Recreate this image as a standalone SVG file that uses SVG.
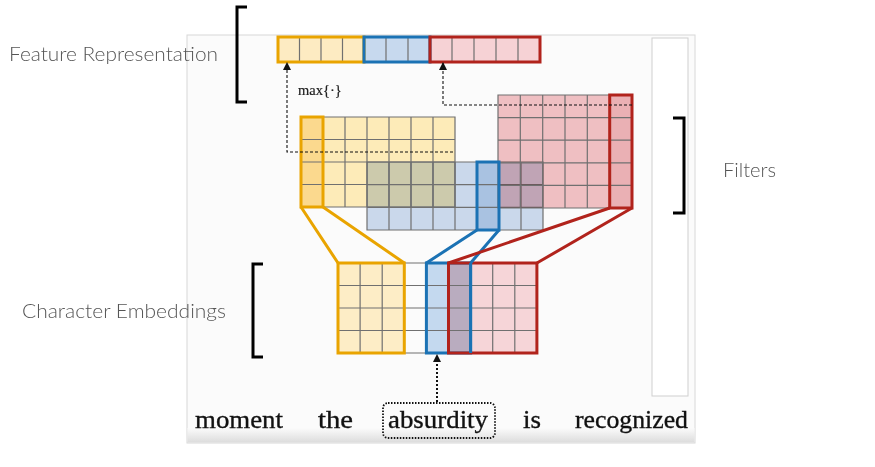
<svg xmlns="http://www.w3.org/2000/svg" width="875" height="467" viewBox="0 0 875 467">
<defs>
<style>
.lbl{font-family:Lato,"Open Sans",sans-serif;font-weight:300;font-size:19.5px;fill:#555}
.word{font-family:"Liberation Serif","DejaVu Serif",serif;font-size:26px;fill:#111;stroke:#111;stroke-width:0.35}
.grid{fill:none;stroke:#707070;stroke-width:1.2}
.brk{fill:none;stroke:#000;stroke-width:3}
.yo{fill:none;stroke:#e9a400;stroke-width:3}
.bo{fill:none;stroke:#1b72b4;stroke-width:3}
.ro{fill:none;stroke:#b1231c;stroke-width:3}
.dash{fill:none;stroke:#111;stroke-width:1.1;stroke-dasharray:3 2}
.mul{mix-blend-mode:multiply}
</style>
<marker id="arr" viewBox="0 0 8 8" refX="7" refY="4" markerWidth="8" markerHeight="8" markerUnits="userSpaceOnUse" orient="auto">
<path d="M0,0 L8,4 L0,8 z" fill="#111"/>
</marker>
<linearGradient id="bot" x1="0" y1="0" x2="0" y2="1">
<stop offset="0" stop-color="#fbfbfb"/>
<stop offset="1" stop-color="#dcdcdc"/>
</linearGradient>
</defs>
<rect width="875" height="467" fill="#fff"/>
<g id="panel">
<rect x="187" y="35" width="508" height="408" fill="#fbfbfb" stroke="#d8d8d8" stroke-width="1"/>
<rect x="187.5" y="428" width="507" height="14.5" fill="url(#bot)"/>
<rect x="652" y="38" width="36" height="358" fill="#fff" stroke="#cfcfcf" stroke-width="1"/>
</g>
<g id="labels">
<text class="lbl" x="9" y="61" textLength="209" lengthAdjust="spacingAndGlyphs">Feature Representation</text>
<text class="lbl" x="22" y="318" textLength="204" lengthAdjust="spacingAndGlyphs">Character Embeddings</text>
<text class="lbl" x="723" y="177" textLength="53" lengthAdjust="spacingAndGlyphs">Filters</text>
<path class="brk" d="M247,7 H237 V102 H247"/>
<path class="brk" d="M263,264 H253 V357 H263"/>
<path class="brk" d="M673,118 H684 V213 H673"/>
</g>
<g id="feature-representation">
<rect x="278" y="37" width="86" height="25" fill="#fdebc2"/>
<rect x="364" y="37" width="66" height="25" fill="#c7d9ee"/>
<rect x="430" y="37" width="110" height="25" fill="#f6d2d5"/>
<path class="grid" d="M299.5,37V62M321,37V62M342.5,37V62M386,37V62M408,37V62M452,37V62M474,37V62M496,37V62M518,37V62"/>
<rect class="yo" x="278" y="37" width="86" height="25"/>
<rect class="bo" x="364" y="37" width="66" height="25"/>
<rect class="ro" x="430" y="37" width="110" height="25"/>
<text x="298" y="95" font-family="'Liberation Serif','DejaVu Serif',serif" font-size="14.5" fill="#222" stroke="#222" stroke-width="0.2">max{·}</text>
</g>
<g id="filters">
<g id="filter-yellow">
<rect x="301" y="117" width="154" height="90" fill="#fdebb8"/>
<rect x="301" y="117" width="22" height="90" fill="#fbd98e"/>
<path class="grid" d="M301,117H455V207H301ZM323,117V207M345,117V207M367,117V207M389,117V207M411,117V207M433,117V207M301,139.5H455M301,162H455M301,184.5H455"/>
</g>
<g id="filter-blue">
<rect class="mul" x="367" y="162" width="176" height="68" fill="#cedcef"/>
<rect x="477" y="162" width="22" height="68" fill="#a9c2e1"/>
<path class="grid" d="M367,162H543V230H367ZM389,162V230M411,162V230M433,162V230M455,162V230M477,162V230M499,162V230M521,162V230M367,184.7H543M367,207.3H543"/>
</g>
<g id="filter-red">
<rect class="mul" x="498" y="95" width="134" height="113" fill="#f3c2c5"/>
<rect x="609.7" y="95" width="22.3" height="113" fill="#eab0b4"/>
<path class="grid" d="M498,95H632V208H498ZM520.3,95V208M542.7,95V208M565,95V208M587.3,95V208M609.7,95V208M498,117.6H632M498,140.2H632M498,162.8H632M498,185.4H632"/>
</g>
<rect class="yo" x="301" y="117" width="22" height="90"/>
<rect class="bo" x="477" y="162" width="22" height="68"/>
<rect class="ro" x="609.7" y="95" width="22.3" height="113"/>
</g>
<g id="character-embeddings">
<rect x="338" y="263" width="66.3" height="90" fill="#fdedc6"/>
<rect x="426.4" y="263" width="22.1" height="90" fill="#c4d9ef"/>
<rect x="448.5" y="263" width="22.1" height="90" fill="#b9acbf"/>
<rect x="470.6" y="263" width="66.3" height="90" fill="#f6d5d8"/>
<path class="grid" d="M338,263H537M338,285.5H537M338,308H537M338,330.5H537M338,353H537M360.1,263V353M382.2,263V353M492.7,263V353M514.8,263V353"/>
<rect class="yo" x="338" y="263" width="66.3" height="90"/>
<rect class="bo" x="426.4" y="263" width="44.2" height="90"/>
<rect class="ro" x="448.5" y="263" width="88.4" height="90"/>
<path class="bo" d="M470.6,263V353"/>
</g>
<g id="words">
<text class="word" x="195" y="428" textLength="88" lengthAdjust="spacingAndGlyphs">moment</text>
<text class="word" x="318" y="428" textLength="35" lengthAdjust="spacingAndGlyphs">the</text>
<text class="word" x="388" y="428" textLength="100" lengthAdjust="spacingAndGlyphs">absurdity</text>
<text class="word" x="523" y="428" textLength="18" lengthAdjust="spacingAndGlyphs">is</text>
<text class="word" x="575" y="428" textLength="113" lengthAdjust="spacingAndGlyphs">recognized</text>
<rect x="383" y="403" width="112" height="35" rx="5" fill="none" stroke="#111" stroke-width="1.8" stroke-dasharray="1.5 1.5"/>
</g>
<g id="connectors">
<path class="dash" d="M453,152H287V63" marker-end="url(#arr)"/>
<path class="dash" d="M632,105H443V63" marker-end="url(#arr)"/>
<path d="M437,402V355" fill="none" stroke="#111" stroke-width="2" stroke-dasharray="2 2" marker-end="url(#arr)"/>
<path class="yo" stroke-width="2.5" d="M301,207L338,263M323,207L404.3,263"/>
<path class="bo" stroke-width="2.5" d="M477,230L426.4,263M499,230L470.6,263"/>
<path class="ro" stroke-width="2.5" d="M609.7,208L448.5,263M632,208L536.9,263"/>
</g>
</svg>
